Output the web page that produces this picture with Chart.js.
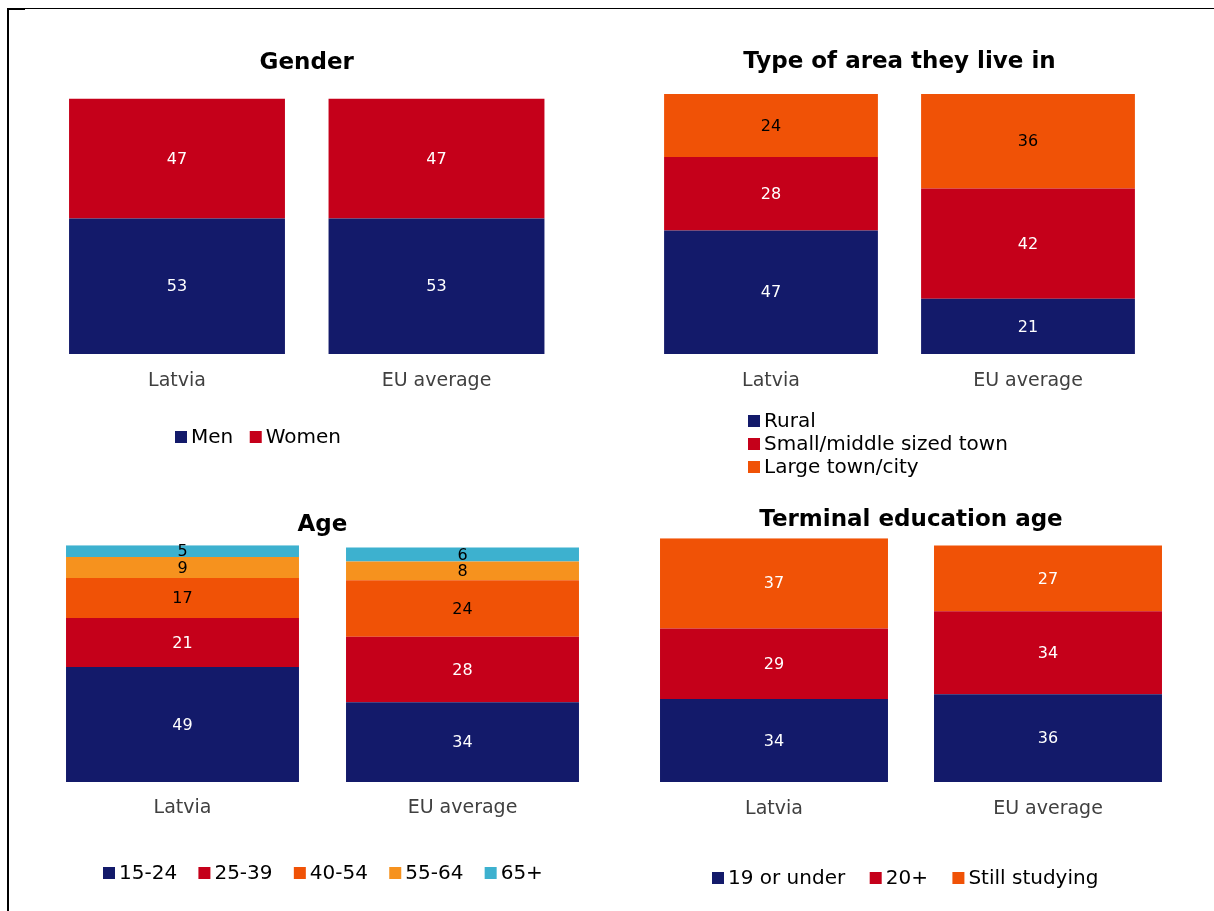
<!DOCTYPE html>
<html>
<head>
<meta charset="utf-8">
<script src="https://cdn.jsdelivr.net/npm/chart.js@4.4.1/dist/chart.umd.min.js"></script>
<style>
  html, body { margin: 0; padding: 0; background: #ffffff; }
  body { width: 1214px; height: 911px; position: relative; overflow: hidden; }
  canvas { position: absolute; }
  .ln { position: absolute; background: #000; }
</style>
</head>
<body>
<div class="ln" style="left:8px;top:8px;width:1206px;height:1px;"></div>
<div class="ln" style="left:7px;top:8px;width:2px;height:903px;"></div>
<div class="ln" style="left:8px;top:8px;width:17px;height:2px;"></div>
<canvas id="c1" width="607" height="460" style="left:0px;top:20px;"></canvas>
<canvas id="c2" width="607" height="460" style="left:607px;top:20px;"></canvas>
<canvas id="c3" width="607" height="421" style="left:0px;top:490px;"></canvas>
<canvas id="c4" width="607" height="421" style="left:607px;top:490px;"></canvas>
<script>
// ---- data ----
const categories = ['Latvia', 'EU average'];

const genderSeries = ['Men', 'Women'];
const genderMen = [53, 53];
const genderWomen = [47, 47];

const areaSeries = ['Rural', 'Small/middle sized town', 'Large town/city'];
const areaRural = [47, 21];
const areaSmallTown = [28, 42];
const areaLargeTown = [24, 36];

const ageSeries = ['15-24', '25-39', '40-54', '55-64', '65+'];
const age15to24 = [49, 34];
const age25to39 = [21, 28];
const age40to54 = [17, 24];
const age55to64 = [9, 8];
const age65plus = [5, 6];

const eduSeries = ['19 or under', '20+', 'Still studying'];
const edu19orUnder = [34, 36];
const edu20plus = [29, 34];
const eduStillStudying = [37, 27];

// ---- styles ----
const NAVY = '#131A6A', RED = '#C5001A', ORANGE = '#F05206', LORANGE = '#F6921E', CYAN = '#3DB1CF';

Chart.defaults.font.family = '"DejaVu Sans", Verdana, sans-serif';
Chart.defaults.color = '#000';
Chart.defaults.animation = false;

// value labels centred in each stacked segment
const valueLabels = {
  id: 'valueLabels',
  afterDatasetsDraw(chart, args, opts) {
    const ctx = chart.ctx;
    ctx.save();
    ctx.font = '16px "DejaVu Sans"';
    ctx.textAlign = 'center';
    ctx.textBaseline = 'middle';
    chart.data.datasets.forEach((ds, i) => {
      const meta = chart.getDatasetMeta(i);
      meta.data.forEach((el, j) => {
        const p = el.getCenterPoint();
        ctx.fillStyle = opts.colors[i];
        ctx.fillText(String(ds.data[j]), p.x, p.y + 1);
      });
    });
    ctx.restore();
  }
};

// legend drawn from the datasets (horizontal row or vertical list)
const seriesLegend = {
  id: 'seriesLegend',
  afterDraw(chart, args, opts) {
    const ctx = chart.ctx;
    const a = chart.chartArea;
    ctx.save();
    ctx.font = '20px "DejaVu Sans"';
    ctx.textBaseline = 'middle';
    ctx.textAlign = 'left';
    let x = a.left + opts.x0;
    chart.data.datasets.forEach((ds, i) => {
      const y = a.bottom + opts.y0 + (opts.vertical ? i * opts.dy : 0);
      const bx = opts.vertical ? a.left + opts.x0 : x;
      ctx.fillStyle = ds.backgroundColor;
      ctx.fillRect(bx, y - 6, 12, 12);
      ctx.fillStyle = '#000';
      ctx.fillText(ds.label, bx + 16, y + 1);
      x = bx + 16 + ctx.measureText(ds.label).width + opts.gap;
    });
    ctx.restore();
  }
};

function ds(label, data, color) {
  return { label, data, backgroundColor: color, borderWidth: 0, barPercentage: 1, categoryPercentage: 0.832 };
}

function makeChart(id, cfg) {
  return new Chart(document.getElementById(id), {
    type: 'bar',
    data: { labels: categories, datasets: cfg.datasets },
    plugins: [valueLabels, seriesLegend],
    options: {
      responsive: false,
      devicePixelRatio: 1,
      layout: { padding: cfg.padding },
      scales: {
        x: {
          stacked: true,
          grid: { display: false, drawTicks: false },
          border: { display: false },
          ticks: { font: { size: 19 }, color: '#404040', padding: cfg.tickPad }
        },
        y: { stacked: true, display: false, min: 0, max: cfg.max }
      },
      plugins: {
        title: {
          display: true, text: cfg.title, color: '#000',
          font: { size: 23, weight: 'bold' },
          padding: cfg.titlePad
        },
        legend: { display: false },
        tooltip: { enabled: false },
        valueLabels: { colors: cfg.labelColors },
        seriesLegend: cfg.legend
      }
    }
  });
}

makeChart('c1', {
  title: 'Gender', max: 100,
  datasets: [ds(genderSeries[0], genderMen, NAVY), ds(genderSeries[1], genderWomen, RED)],
  labelColors: ['#fff', '#fff'],
  padding: { left: 47.25, right: 40.75, top: 0, bottom: 71.2 },
  titlePad: { top: 29.4, bottom: 21.4 },
  tickPad: 16,
  legend: { x0: 127.75, y0: 83, gap: 16.5, vertical: false }
});

makeChart('c2', {
  title: 'Type of area they live in', max: 99,
  datasets: [ds(areaSeries[0], areaRural, NAVY), ds(areaSeries[1], areaSmallTown, RED), ds(areaSeries[2], areaLargeTown, ORANGE)],
  labelColors: ['#fff', '#fff', '#000'],
  padding: { left: 35.5, right: 57.5, top: 0, bottom: 71.2 },
  titlePad: { top: 28, bottom: 18.4 },
  tickPad: 16,
  legend: { x0: 105.5, y0: 67, dy: 23, gap: 0, vertical: true }
});

makeChart('c3', {
  title: 'Age', max: 101,
  datasets: [ds(ageSeries[0], age15to24, NAVY), ds(ageSeries[1], age25to39, RED), ds(ageSeries[2], age40to54, ORANGE),
             ds(ageSeries[3], age55to64, LORANGE), ds(ageSeries[4], age65plus, CYAN)],
  labelColors: ['#fff', '#fff', '#000', '#000', '#000'],
  padding: { left: 42.5, right: 4.5, top: 0, bottom: 76.2 },
  titlePad: { top: 21, bottom: 6.6 },
  tickPad: 15,
  legend: { x0: 60.5, y0: 91, gap: 21.3, vertical: false }
});

makeChart('c4', {
  title: 'Terminal education age', max: 100,
  datasets: [ds(eduSeries[0], edu19orUnder, NAVY), ds(eduSeries[1], edu20plus, RED), ds(eduSeries[2], eduStillStudying, ORANGE)],
  labelColors: ['#fff', '#fff', '#fff'],
  padding: { left: 30, right: 29, top: 0, bottom: 74.2 },
  titlePad: { top: 16, bottom: 4.6 },
  tickPad: 16,
  legend: { x0: 75, y0: 96, gap: 24.5, vertical: false }
});
</script>
</body>
</html>
